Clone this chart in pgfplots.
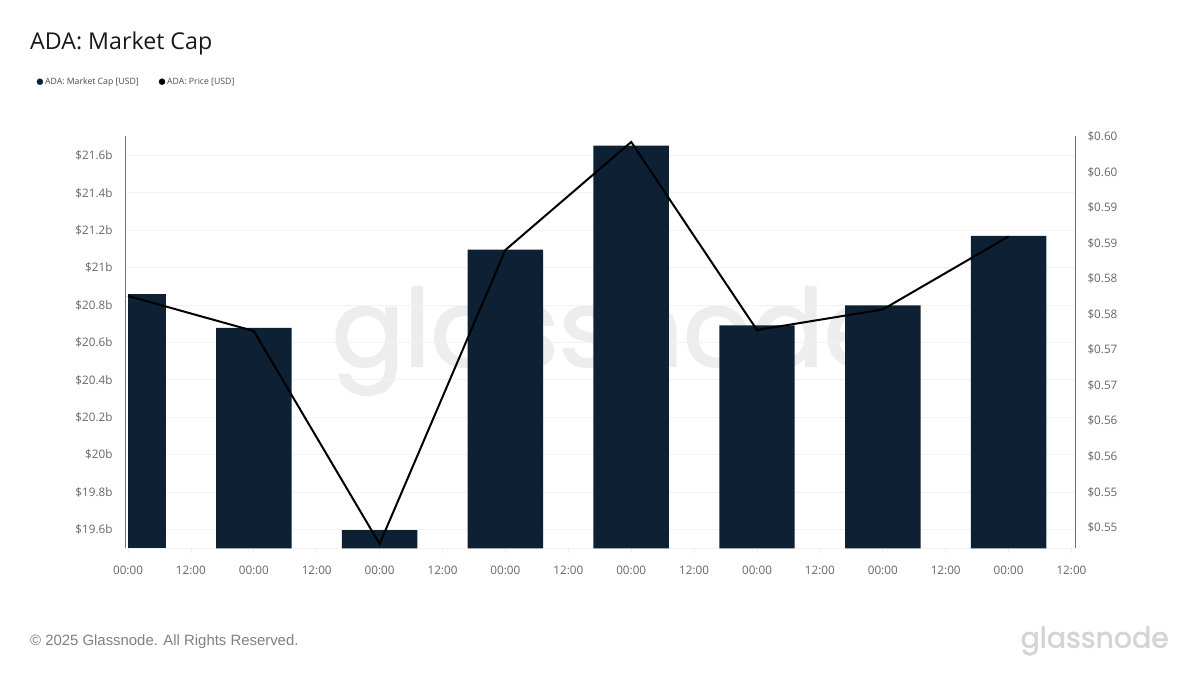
\documentclass[border=0pt]{standalone}
\usepackage{pgfplots}
\usepackage{fontspec}
\pgfplotsset{compat=1.18}
\setmainfont{Open Sans}
\newfontfamily\footfont{Liberation Sans}
\newfontfamily\logofont[FakeBold=1.8]{Poppins}
\definecolor{barcol}{HTML}{0E2134}
\definecolor{axcol}{HTML}{6E7079}
\definecolor{gridcol}{HTML}{F2F2F2}
\definecolor{tickcol}{HTML}{666666}
\pgfplotstableread{
x cap
1 20.678
2 19.597
3 21.097
4 21.653
5 20.691
6 20.798
7 21.170
}\captable
\pgfplotstableread{
x price
0 0.57757
1 0.57264
2 0.54269
3 0.58404
4 0.59923
5 0.57278
6 0.57567
7 0.58594
}\pricetable
\begin{document}
\begin{tikzpicture}[x=1pt,y=1pt]
\path[use as bounding box,fill=white] (0,0) rectangle (1200,675);
\node[anchor=center,text=black!7] at (611,334) {\logofont\fontsize{107}{107}\selectfont glassnode};
\node[anchor=west,inner sep=0pt,text=black!90] at (30,631.7) {\fontsize{23.2}{26}\selectfont ADA: Market Cap};
\node[anchor=west,inner sep=0pt,text=black!50] at (30,33.5) {\footfont\fontsize{14.9}{18}\selectfont © 2025 Glassnode. All Rights Reserved.};
\node[anchor=east,inner sep=0pt,text=black!17] at (1169,34) {\logofont\fontsize{28.4}{30}\selectfont glassnode};
\begin{axis}[
  at={(125.5pt,126.5pt)},anchor=south west,
  width=949.5pt,height=412pt,scale only axis,
  xmin=-0.02,xmax=7.528,ymin=19.4984,ymax=21.7016,
  axis y line*=left,axis x line*=bottom,
  xtick={0,0.5,...,7.5},
  xticklabels={00:00,12:00,00:00,12:00,00:00,12:00,00:00,12:00,00:00,12:00,00:00,12:00,00:00,12:00,00:00,12:00},
  ytick={19.6,19.8,20,20.2,20.4,20.6,20.8,21,21.2,21.4,21.6},
  yticklabels={\$19.6b,\$19.8b,\$20b,\$20.2b,\$20.4b,\$20.6b,\$20.8b,\$21b,\$21.2b,\$21.4b,\$21.6b},
  ymajorgrids,grid style={gridcol,line width=0.8pt},
  tick label style={font=\fontsize{11.7}{13}\selectfont,text=tickcol},
  x tick style={gridcol!70!black!20,line width=0.8pt},
  y tick style={draw=none},
  major tick length=4.5pt,
  tick align=outside,
  x axis line style={gridcol,line width=0.8pt,-},
  y axis line style={axcol,line width=1pt,-},
  xticklabel style={yshift=-9pt},
  yticklabel style={xshift=-5pt},
]
\addplot[ybar,bar width=0.6,bar shift=0pt,fill=barcol,draw=none] table[x=x,y=cap] {\captable};
\addplot[ybar,bar width=0.3,bar shift=0.15,fill=barcol,draw=none] coordinates {(0,20.859)};
\end{axis}
\begin{axis}[
  at={(125.5pt,126.5pt)},anchor=south west,
  width=949.5pt,height=412pt,scale only axis,
  xmin=-0.02,xmax=7.528,ymin=0.54205,ymax=0.60,
  axis y line*=right,axis x line=none,
  ytick={0.545,0.55,0.555,0.56,0.565,0.57,0.575,0.58,0.585,0.59,0.595,0.60},
  yticklabels={\$0.55,\$0.55,\$0.56,\$0.56,\$0.57,\$0.57,\$0.58,\$0.58,\$0.59,\$0.59,\$0.60,\$0.60},
  tick label style={font=\fontsize{11.7}{13}\selectfont,text=tickcol},
  y tick style={draw=none},
  major tick length=0pt,
  y axis line style={axcol,line width=1pt,-},
  yticklabel style={xshift=9pt},
  legend cell align=left,
  legend columns=2,
  legend style={at={(-0.0937,1.133)},anchor=west,draw=none,fill=none,inner sep=0pt,
    font=\fontsize{8.7}{10}\selectfont,text=black!70,
    /tikz/every even column/.style={column sep=18pt}},
  clip=false,
]
\addlegendimage{legend image code/.code={\fill[barcol] (0pt,0pt) circle (3pt);}}
\addlegendentry{ADA: Market Cap [USD]}
\addlegendimage{legend image code/.code={\fill[black] (0pt,0pt) circle (3pt);}}
\addlegendentry{ADA: Price [USD]}
\addplot[black,line width=2pt,line join=miter,forget plot] table[x=x,y=price] {\pricetable};
\end{axis}
\end{tikzpicture}
\end{document}
